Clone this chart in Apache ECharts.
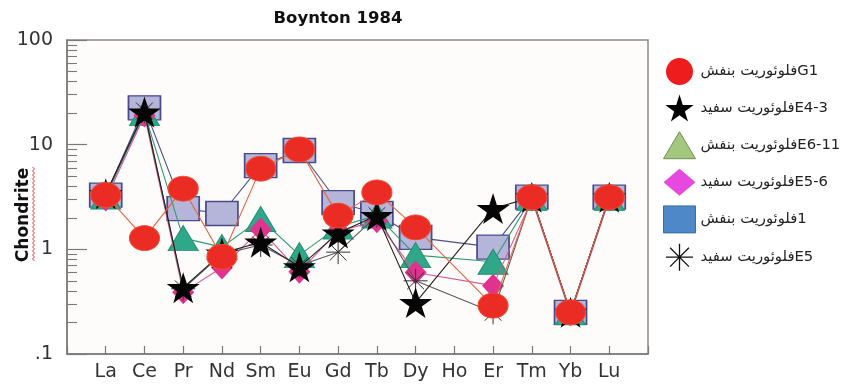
<!DOCTYPE html>
<html>
<head>
<meta charset="utf-8">
<script src="https://cdn.jsdelivr.net/npm/echarts@6/dist/echarts.min.js"></script>
<style>
  html, body { margin: 0; padding: 0; background: #ffffff; }
  #chart { width: 845px; height: 385px; }
</style>
</head>
<body>
<div id="chart"></div>
<script>
// Rare earth elements along the x axis (chondrite-normalised pattern)
const elements = ['La', 'Ce', 'Pr', 'Nd', 'Sm', 'Eu', 'Gd', 'Tb', 'Dy', 'Ho', 'Er', 'Tm', 'Yb', 'Lu'];

// Sample values (null = not measured)
const g1Purple   = [3.3, 1.28, 3.8, 0.85, 5.9, 9.0, 2.1, 3.5, 1.62, null, 0.29, 3.15, 0.25, 3.15];
const e43White   = [3.4, 20.5, 0.43, 0.92, 1.17, 0.68, 1.43, 2.1, 0.31, null, 2.45, 3.15, 0.25, 3.15];
const e611Purple = [3.2, 20.0, 1.28, 1.05, 1.95, 0.88, 1.65, 2.1, 0.88, null, 0.76, 3.1, 0.25, 3.1];
const e56White   = [3.0, 19.0, 0.39, 0.67, 1.55, 0.61, 1.5, 1.85, 0.6, null, 0.45, 3.0, 0.24, 3.0];
const s1Purple   = [3.3, 22.5, 2.45, 2.2, 6.3, 8.8, 2.8, 2.2, 1.3, null, 1.05, 3.15, 0.25, 3.15];
const e5White    = [3.3, 21.0, 0.42, 0.9, 1.1, 0.7, 0.94, 2.1, 0.5, null, 0.25, 3.15, 0.25, 3.15];

// Axis tick values
const majorTicks = [0.1, 1, 10, 100];
const minorTicks = [0.2, 0.3, 0.4, 0.5, 0.6, 0.7, 0.8, 0.9, 2, 3, 4, 5, 6, 7, 8, 9, 20, 30, 40, 50, 60, 70, 80, 90];

// Series names
const names = {
  g1: 'فلوئوریت بنفشG1',
  e43: 'فلوئوریت سفیدE4-3',
  e611: 'فلوئوریت بنفشE6-11',
  e56: 'فلوئوریت سفیدE5-6',
  s1: 'فلوئوریت بنفش\u200E1',
  e5: 'فلوئوریت سفیدE5'
};

const STAR = 'path://M50,0 L61,35 L98,35 L68,57 L79,91 L50,70 L21,91 L32,57 L2,35 L39,35 Z';
const ASTER = 'path://M0,50 L100,50 M50,0 L50,100 M15,15 L85,85 M85,15 L15,85';

function pairs(vals) {
  const out = [];
  vals.forEach((v, i) => { if (v !== null) out.push([i + 1, v]); });
  return out;
}

function makeSeries(name, vals, symbol, size, itemStyle, lineColor, z) {
  return {
    name: name,
    type: 'line',
    data: pairs(vals),
    symbol: symbol,
    symbolSize: size,
    itemStyle: itemStyle,
    lineStyle: { color: lineColor, width: 1.1 },
    emphasis: { disabled: true },
    z: z,
    animation: false
  };
}

const FONT = 'DejaVu Sans, Liberation Sans, sans-serif';

// Zigzag squiggle under the axis title
const squiggle = [];
for (let y = 167, k = 0; y <= 262; y += 2, k++) squiggle.push([k % 2 ? 34.5 : 32.5, y]);

const chart = echarts.init(document.getElementById('chart'), null, { renderer: 'canvas' });

chart.setOption({
  backgroundColor: '#ffffff',
  animation: false,
  title: {
    text: 'Boynton 1984',
    left: 338,
    top: 10,
    padding: 0,
    textAlign: 'center',
    textStyle: { fontFamily: FONT, fontWeight: 'bold', fontSize: 16.5, color: '#111' }
  },
  grid: {
    left: 67, right: 197, top: 40, bottom: 31,
    show: true, borderColor: '#8a8a8a', borderWidth: 1.5, backgroundColor: '#fdfcfa'
  },
  legend: {
    orient: 'vertical',
    left: 663,
    top: 58,
    itemWidth: 32,
    itemHeight: 27,
    itemGap: 9.6,
    itemStyle: {},
    padding: 0,
    selectedMode: false,
    textStyle: { fontFamily: FONT, fontSize: 14.8, color: '#222' },
    data: [
      { name: names.g1, icon: 'circle', itemStyle: { color: '#ee1c1c', borderWidth: 0 } },
      { name: names.e43, icon: STAR, itemStyle: { color: '#000000', borderWidth: 0 } },
      { name: names.e611, icon: 'triangle', itemStyle: { color: '#a3c77f', borderColor: '#6f8f55', borderWidth: 1 } },
      { name: names.e56, icon: 'diamond', itemStyle: { color: '#e648e0', borderWidth: 0 } },
      { name: names.s1, icon: 'rect', itemStyle: { color: '#4f88c8', borderColor: '#3a6ea5', borderWidth: 1 } },
      { name: names.e5, icon: ASTER, itemStyle: { color: 'transparent', borderColor: '#111', borderWidth: 1.3 } }
    ]
  },
  xAxis: {
    type: 'value',
    min: 0,
    max: 15,
    interval: 1,
    splitLine: { show: false },
    axisLine: { lineStyle: { color: '#7a7a7a', width: 1.5 } },
    axisTick: { inside: true, length: 8, lineStyle: { color: '#7a7a7a', width: 1.2 } },
    axisLabel: {
      margin: 9,
      fontFamily: FONT,
      fontSize: 19,
      color: '#333',
      formatter: v => elements[v - 1] || ''
    }
  },
  yAxis: [
    {
      type: 'log',
      logBase: 10,
      min: 0.1,
      max: 100,
      splitLine: { show: false },
      axisLine: { show: true, lineStyle: { color: '#7a7a7a', width: 1.5 } },
      axisTick: { inside: true, length: 20, customValues: majorTicks, lineStyle: { color: '#7a7a7a', width: 1.2 } },
      axisLabel: {
        margin: 14,
        fontFamily: FONT,
        fontSize: 19,
        color: '#333',
        customValues: majorTicks,
        formatter: v => (v < 0.5 ? '.1' : String(Math.round(v)))
      }
    },
    {
      type: 'log',
      logBase: 10,
      min: 0.1,
      max: 100,
      position: 'left',
      splitLine: { show: false },
      axisLine: { show: false },
      axisLabel: { show: false },
      axisTick: { inside: true, length: 10, customValues: minorTicks, lineStyle: { color: '#7a7a7a', width: 1.1 } }
    }
  ],
  graphic: [
    {
      type: 'text',
      x: 24, y: 215,
      rotation: Math.PI / 2,
      style: {
        text: 'Chondrite',
        fontFamily: FONT,
        fontWeight: 'bold',
        fontSize: 17,
        fill: '#111',
        align: 'center',
        verticalAlign: 'middle'
      }
    },
    {
      type: 'polyline',
      shape: { points: squiggle },
      style: { stroke: '#e0393b', lineWidth: 1, fill: null }
    }
  ],
  series: [
    makeSeries(names.s1, s1Purple, 'rect', [32, 24],
      { color: '#b5b4d9', borderColor: '#4a4a8e', borderWidth: 1.5 }, '#4a4f8e', 2),
    makeSeries(names.e611, e611Purple, 'triangle', [30, 25],
      { color: '#2ea888', borderColor: '#249070', borderWidth: 1 }, '#2f9a72', 3),
    makeSeries(names.e56, e56White, 'diamond', [22, 24],
      { color: '#e0338f', borderWidth: 0 }, '#d35a94', 4),
    makeSeries(names.e5, e5White, ASTER, [24, 24],
      { color: 'transparent', borderColor: '#333', borderWidth: 1 }, '#5a5a5a', 5),
    makeSeries(names.e43, e43White, STAR, [33, 31],
      { color: '#050505', borderWidth: 0 }, '#222222', 6),
    makeSeries(names.g1, g1Purple, 'circle', [30, 25],
      { color: '#ea2c24', borderColor: '#f04a30', borderWidth: 1 }, '#e8623e', 7)
  ]
});
</script>
</body>
</html>
